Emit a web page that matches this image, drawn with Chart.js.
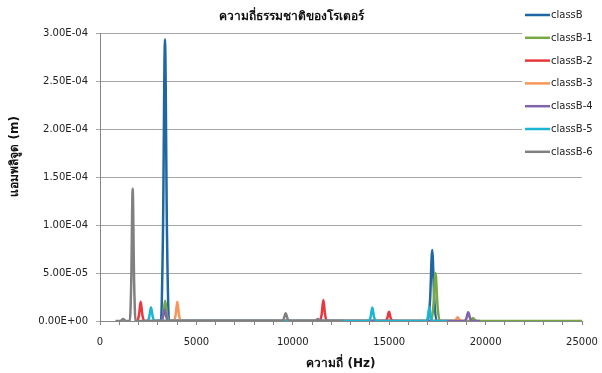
<!DOCTYPE html>
<html>
<head>
<meta charset="utf-8">
<script src="https://cdn.jsdelivr.net/npm/chart.js@4/dist/chart.umd.min.js"></script>
<style>
  body { margin: 0; background: #fff; }
  #wrap { width: 602px; height: 373px; }
</style>
</head>
<body>
<div id="wrap"><canvas id="chart" width="602" height="373"></canvas></div>
<script>
// values (frequency in Hz, amplitude in m)
var seriesNames = ['classB', 'classB-1', 'classB-2', 'classB-3', 'classB-4', 'classB-5', 'classB-6'];
var seriesColors = ['#1F67A3', '#77A844', '#E8383D', '#F7965A', '#8063AB', '#1AB6D1', '#808080'];

var freqB  = [2800, 3160, 3265, 3370, 3475, 3580, 16900, 17010, 17120, 17230, 17340, 17450, 18500];
var ampB   = [0, 0, 9.0e-5, 2.94e-4, 9.0e-5, 0, 0, 0, 2.2e-5, 7.4e-5, 2.2e-5, 0, 0];

var freqB1 = [3000, 3180, 3280, 3380, 3480, 3580, 17180, 17290, 17400, 17510, 17620, 19150, 19250, 19350, 19450, 19550, 25000];
var ampB1  = [0, 0, 6e-6, 2.1e-5, 6e-6, 0, 0, 1.5e-5, 5.0e-5, 1.5e-5, 0, 0, 1e-6, 3e-6, 1e-6, 0, 0];

var freqB2 = [1800, 1930, 2020, 2110, 2200, 2290, 11400, 11495, 11585, 11675, 11770, 14810, 14900, 14990, 15080, 15170, 15500];
var ampB2  = [0, 0, 6e-6, 2.0e-5, 6e-6, 0, 0, 6.5e-6, 2.2e-5, 6.5e-6, 0, 0, 3e-6, 9.7e-6, 3e-6, 0, 0];

var freqB3 = [3600, 3830, 3920, 4010, 4100, 4190, 18350, 18450, 18550, 18650, 18750, 19000];
var ampB3  = [0, 0, 6e-6, 2.0e-5, 6e-6, 0, 0, 1.2e-6, 4e-6, 1.2e-6, 0, 0];

var freqB4 = [2900, 3150, 3250, 3350, 3450, 3550, 18900, 19000, 19100, 19200, 19300, 19700];
var ampB4  = [0, 0, 3.6e-6, 1.2e-5, 3.6e-6, 0, 0, 2.7e-6, 9e-6, 2.7e-6, 0, 0];

var freqB5 = [2300, 2465, 2555, 2645, 2735, 2825, 13945, 14035, 14125, 14215, 14305, 16930, 17005, 17080, 17155, 17230, 18000];
var ampB5  = [0, 0, 4.3e-6, 1.43e-5, 4.3e-6, 0, 0, 4.2e-6, 1.4e-5, 4.2e-6, 0, 0, 4.4e-6, 1.46e-5, 4.4e-6, 0, 0];

var freqB6 = [800, 1050, 1200, 1350, 1545, 1620, 1695, 1770, 1845, 9430, 9530, 9630, 9730, 9830, 11150, 11300, 11450, 12600];
var ampB6  = [0, 0, 2e-6, 0, 0, 4.1e-5, 1.38e-4, 4.1e-5, 0, 0, 2.4e-6, 8e-6, 2.4e-6, 0, 0, 2e-6, 0, 0];

var allFreq = [freqB, freqB1, freqB2, freqB3, freqB4, freqB5, freqB6];
var allAmp  = [ampB, ampB1, ampB2, ampB3, ampB4, ampB5, ampB6];

var yTickMax = 3.0e-4;
var yTickStep = 5.0e-5;
var xTickMax = 25000;

function sci(v) {
    var parts = Number(v).toExponential(2).split('e');
    var n = parseInt(parts[1], 10);
    return parts[0] + 'E' + (n < 0 ? '-' : '+') + String(Math.abs(n)).padStart(2, '0');
}

var datasets = seriesNames.map(function (name, i) {
    return {
        label: name,
        data: allFreq[i].map(function (f, j) { return { x: f, y: allAmp[i][j] }; }),
        borderColor: seriesColors[i],
        backgroundColor: seriesColors[i],
        borderWidth: 2.5,
        pointRadius: 0,
        showLine: true,
        cubicInterpolationMode: 'monotone',
        order: -i
    };
});

// legend drawn over the top right of the plot, like the original
var sideLegend = {
    id: 'sideLegend',
    afterDraw: function (chart) {
        var ctx = chart.ctx;
        ctx.save();
        ctx.fillStyle = '#fff';
        ctx.fillRect(522, 0, 80, 166);
        ctx.font = '10px "DejaVu Sans"';
        ctx.textBaseline = 'middle';
        ctx.textAlign = 'left';
        chart.data.datasets.forEach(function (ds, i) {
            var y = 15 + i * 22.8;
            ctx.strokeStyle = ds.borderColor;
            ctx.lineWidth = 2.5;
            ctx.beginPath();
            ctx.moveTo(525, y);
            ctx.lineTo(550, y);
            ctx.stroke();
            ctx.fillStyle = '#222';
            ctx.fillText(ds.label, 551, y + 0.5);
        });
        ctx.restore();
    }
};

Chart.defaults.font.family = '"DejaVu Sans", sans-serif';
Chart.defaults.font.size = 10;
Chart.defaults.color = '#222';

new Chart(document.getElementById('chart'), {
    type: 'scatter',
    data: { datasets: datasets },
    options: {
        responsive: false,
        devicePixelRatio: 1,
        animation: false,
        layout: { padding: { left: 0, right: 20, top: 0, bottom: 0 } },
        plugins: {
            legend: { display: false },
            tooltip: { enabled: false },
            title: {
                display: true,
                text: 'ความถี่ธรรมชาติของโรเตอร์',
                font: { size: 12, weight: 'bold' },
                color: '#111',
                padding: { top: 10, bottom: 9 }
            }
        },
        scales: {
            x: {
                type: 'linear',
                min: 0,
                max: xTickMax,
                afterFit: function (s) {
                    s.height = 52;
                    s.paddingRight = 0;
                    s.paddingLeft = 0;
                },
                ticks: {
                    stepSize: 1000,
                    autoSkip: false,
                    maxRotation: 0,
                    padding: 11,
                    callback: function (v) { return v % 5000 === 0 ? String(v) : ''; }
                },
                grid: { drawOnChartArea: false, drawTicks: true, tickLength: 4, color: '#868686' },
                border: { color: '#868686', width: 1 },
                title: {
                    display: true,
                    text: 'ความถี่ (Hz)',
                    font: { size: 12, weight: 'bold' },
                    color: '#111',
                    padding: { top: 2, bottom: 2 }
                }
            },
            y: {
                min: 0,
                max: yTickMax,
                afterFit: function (s) { s.width = 100; },
                ticks: {
                    stepSize: yTickStep,
                    padding: 8,
                    callback: function (v) { return sci(v); }
                },
                grid: { color: '#A6A6A6', tickLength: 4, drawTicks: true },
                border: { color: '#868686', width: 1 },
                title: {
                    display: true,
                    // leading spaces lift the rotated title to where the original sits
                    text: '          แอมพลิจูด (m)',
                    font: { size: 12, weight: 'bold' },
                    color: '#111',
                    padding: { top: 8, bottom: 4 }
                }
            }
        }
    },
    plugins: [sideLegend]
});
</script>
</body>
</html>
